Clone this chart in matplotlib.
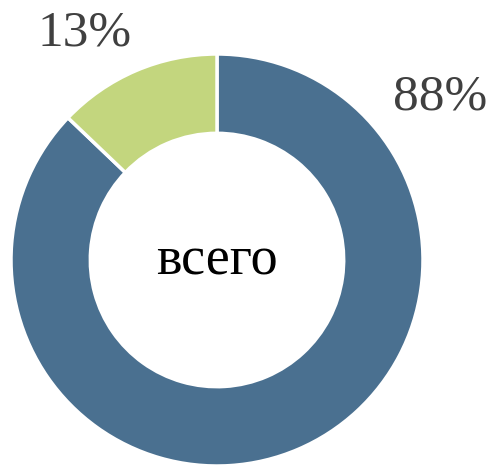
import matplotlib
matplotlib.use("Agg")
import matplotlib.pyplot as plt

categories = ["A", "B"]
values = [88, 13]
labels = ["88%", "13%"]
colors = ["#4a7090", "#c3d67e"]
center_text = "всего"

W, H = 492, 466
fig = plt.figure(figsize=(W / 100, H / 100), dpi=100)
ax = fig.add_axes([0, 0, 1, 1])
cx, cy, R = 217, 206, 206
wedges, _ = ax.pie(values, colors=colors, startangle=90, counterclock=False,
                   center=(cx, cy), radius=R,
                   wedgeprops=dict(width=R * 0.385, edgecolor="white", linewidth=2.5))
ax.set_xlim(0, W)
ax.set_ylim(0, H)
ax.set_aspect("equal")
ax.axis("off")

fam = ["Liberation Serif", "DejaVu Serif"]
ax.text(440, 369, labels[0], ha="center", va="center", fontsize=37, color="#404040", family=fam)
ax.text(85, 433, labels[1], ha="center", va="center", fontsize=37, color="#404040", family=fam)
ax.text(cx, 205, center_text, ha="center", va="center", fontsize=39, color="black", family=fam)

fig.savefig("out.png", dpi=100)
